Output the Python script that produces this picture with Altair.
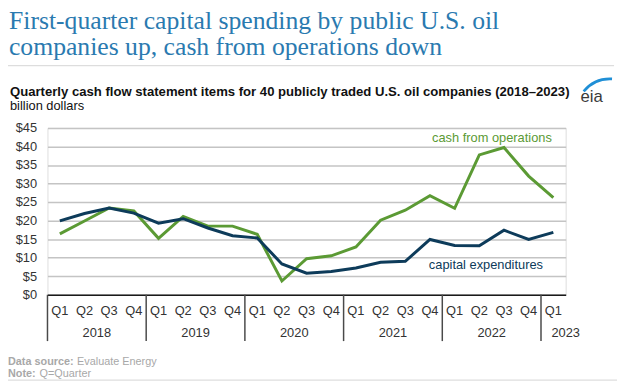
import altair as alt
import pandas as pd

# ---------------- data ----------------
quarters = [
    "2018 Q1", "2018 Q2", "2018 Q3", "2018 Q4",
    "2019 Q1", "2019 Q2", "2019 Q3", "2019 Q4",
    "2020 Q1", "2020 Q2", "2020 Q3", "2020 Q4",
    "2021 Q1", "2021 Q2", "2021 Q3", "2021 Q4",
    "2022 Q1", "2022 Q2", "2022 Q3", "2022 Q4",
    "2023 Q1",
]
cash_from_operations = [16.4, 19.9, 23.4, 22.6, 15.2, 21.1, 18.5, 18.5, 16.3, 3.7, 9.7,
                        10.5, 12.9, 20.1, 22.8, 26.7, 23.3, 37.7, 39.7, 32.0, 26.2]
capital_expenditures = [19.9, 21.9, 23.4, 22.0, 19.3, 20.5, 18.0, 15.9, 15.3, 8.3, 5.8,
                        6.25, 7.2, 8.75, 9.0, 14.9, 13.3, 13.2, 17.4, 14.9, 16.8]
year_labels = ["2018", "2019", "2020", "2021", "2022", "2023"]
year_first_quarter = ["2018 Q1", "2019 Q1", "2020 Q1", "2021 Q1", "2022 Q1", "2023 Q1"]
year_label_anchor = ["2018 Q2", "2019 Q2", "2020 Q2", "2021 Q2", "2022 Q2", "2023 Q1"]
y_ticks = [0, 5, 10, 15, 20, 25, 30, 35, 40, 45]

title_text = ("First-quarter capital spending by public U.S. oil\n"
              "companies up, cash from operations down")
subtitle = "Quarterly cash flow statement items for 40 publicly traded U.S. oil companies (2018\u20132023)"
units = "billion dollars"
series_names = ["cash from operations", "capital expenditures"]

GREEN = "#5b9a34"
NAVY = "#0d3b5a"
TITLE_BLUE = "#2a7ab0"
FOOT = "#a8a8a8"
TXT = "#333333"

W, H = 525, 169
PAD = {"left": 40, "top": 119, "right": 52, "bottom": 88}

xscale = alt.Scale(type="band", domain=quarters, paddingInner=0, paddingOuter=0)
yscale = alt.Scale(domain=[0, 45], nice=False)

x_axis = alt.Axis(
    title=None, ticks=False, grid=False, domain=True, domainColor="#1a1a1a", domainWidth=1.5,
    labelExpr="substring(datum.value, 5)", labelAngle=0, labelFontSize=13, labelFont="Liberation Sans",
    labelColor=TXT, labelPadding=10, labelBaseline="top", labelOverlap=False,
)
y_axis = alt.Axis(
    title=None, ticks=False, domain=False, grid=True, gridColor="#c4c4c4", gridWidth=1.5,
    values=y_ticks, labelExpr="'$' + datum.value", labelFontSize=13, labelFont="Liberation Sans",
    labelColor=TXT, labelPadding=11, labelOverlap=False,
)


def X(band):
    return alt.X("quarter:O", scale=xscale, sort=quarters, bandPosition=band, axis=x_axis)


def Y():
    return alt.Y("value:Q", scale=yscale, axis=y_axis)


cash_df = pd.DataFrame({"quarter": quarters, "value": cash_from_operations})
capex_df = pd.DataFrame({"quarter": quarters, "value": capital_expenditures})

cash_line = alt.Chart(cash_df).mark_line(color=GREEN, strokeWidth=3).encode(x=X(0.5), y=Y())
capex_line = alt.Chart(capex_df).mark_line(color=NAVY, strokeWidth=3).encode(x=X(0.5), y=Y())

dividers = alt.Chart(pd.DataFrame({"quarter": year_first_quarter})).mark_rule(
    color="#4a4a4a", strokeWidth=1.5
).encode(x=X(0), y=alt.value(H), y2=alt.value(H + 47))

years = alt.Chart(pd.DataFrame({"quarter": year_label_anchor, "year": year_labels})).mark_text(
    font="Liberation Sans", fontSize=13, color=TXT, baseline="middle", align="center"
).encode(x=X(1), y=alt.value(H + 38.5), text="year:N")

labels_df = pd.DataFrame({"quarter": ["2023 Q1", "2023 Q1"], "value": [41.3, 6.9],
                          "name": series_names})
cash_label = alt.Chart(labels_df.iloc[[0]]).mark_text(
    font="Liberation Sans", fontSize=13, color=GREEN, align="right", baseline="alphabetic", dx=-1.5
).encode(x=X(0.5), y=Y(), text="name:N")
capex_label = alt.Chart(labels_df.iloc[[1]]).mark_text(
    font="Liberation Sans", fontSize=13, color=NAVY, align="right", baseline="alphabetic", dx=-10.5
).encode(x=X(0.5), y=Y(), text="name:N")


def txt(s, x, y, **kw):
    return alt.Chart(pd.DataFrame({"t": [s]})).mark_text(
        align=kw.pop("align", "left"), baseline=kw.pop("baseline", "alphabetic"), **kw
    ).encode(x=alt.value(x), y=alt.value(y), text="t:N")


def hline(x1, x2, y, color):
    return alt.Chart(pd.DataFrame({"a": [0]})).mark_rule(color=color, strokeWidth=1).encode(
        x=alt.value(x1), x2=alt.value(x2), y=alt.value(y))


header = [
    txt(title_text, -39, -100, font="Liberation Serif", fontSize=26, color=TITLE_BLUE,
        lineBreak="\n", lineHeight=26),
    hline(-40, 574, -63, "#d4d4d4"),
    txt(subtitle, -38, -32, font="Liberation Sans", fontSize=13.3, fontWeight="bold", color="#111111"),
    txt(units, -38, -18, font="Liberation Sans", fontSize=13, color="#111111"),
    txt("eia", 540, -26, font="Liberation Sans", fontSize=17, color="#3a3a3a"),
    alt.Chart(pd.DataFrame({"a": [0]})).mark_arc(
        theta=5.40, theta2=6.34, radius=36, radius2=33.3, color="#1f8fd6"
    ).encode(x=alt.value(570), y=alt.value(-15)),
]

footer = [
    txt("Data source:", -40, 240, font="Liberation Sans", fontSize=11, fontWeight="bold", color=FOOT),
    txt("Evaluate Energy", 30, 240, font="Liberation Sans", fontSize=11, color=FOOT),
    txt("Note:", -40, 252, font="Liberation Sans", fontSize=11, fontWeight="bold", color=FOOT),
    txt("Q=Quarter", -8, 252, font="Liberation Sans", fontSize=11, color=FOOT),
    hline(-40, 577, 255.5, "#d4d4d4"),
]

chart = alt.layer(
    cash_line, capex_line, dividers, years, cash_label, capex_label, *header, *footer
).properties(
    width=W, height=H, autosize=alt.AutoSizeParams(type="none"), padding=PAD,
).configure_view(strokeWidth=0).configure(background="white")

chart.save("out.html", embed_options={"renderer": "svg", "actions": False})
